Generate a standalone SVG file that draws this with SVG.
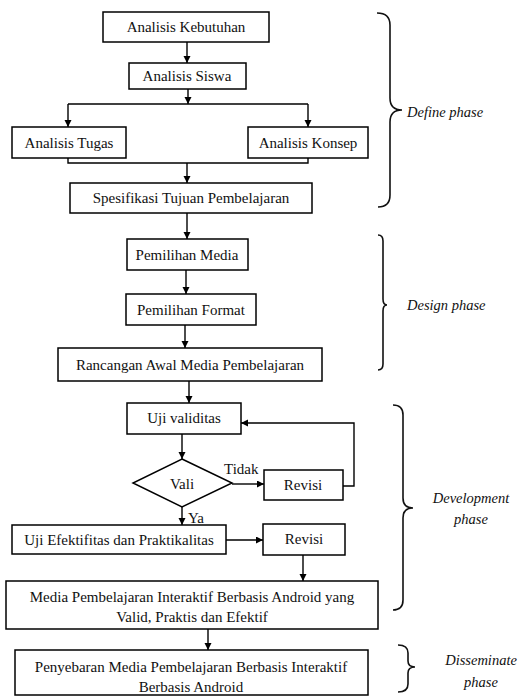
<svg xmlns="http://www.w3.org/2000/svg" width="521" height="700" viewBox="0 0 521 700">
<style>
.box{fill:#fff;stroke:#000;stroke-width:1.5}
.t{font-family:"Liberation Serif","Times New Roman",serif;font-size:15px;fill:#111;text-anchor:middle}
.tl{font-family:"Liberation Serif","Times New Roman",serif;font-size:15px;fill:#111}
.ph{font-family:"Liberation Serif","Times New Roman",serif;font-size:14.5px;font-style:italic;fill:#111}
.c{fill:none;stroke:#000;stroke-width:1.4}
.br{fill:none;stroke:#111;stroke-width:1.6}
</style>
<defs>
<marker id="ah" markerUnits="userSpaceOnUse" markerWidth="8" markerHeight="8" refX="7" refY="3.5" orient="auto">
<path d="M0,0 L7,3.5 L0,7 z" fill="#000"/>
</marker>
</defs>
<rect width="521" height="700" fill="#fff"/>
<g id="connectors">
<path class="c" d="M187,42 V63" marker-end="url(#ah)"/>
<path class="c" d="M188,89 V104"  marker-end="url(#ah)"/>
<path class="c" d="M68,104 H308"/>
<path class="c" d="M68,104 V127" marker-end="url(#ah)"/>
<path class="c" d="M308,104 V127" marker-end="url(#ah)"/>
<path class="c" d="M68,158 V163 H308 V158"/>
<path class="c" d="M187,163 V183" marker-end="url(#ah)"/>
<path class="c" d="M187,213 V239" marker-end="url(#ah)"/>
<path class="c" d="M186,270 V294" marker-end="url(#ah)"/>
<path class="c" d="M185,325 V348" marker-end="url(#ah)"/>
<path class="c" d="M189,381 V403" marker-end="url(#ah)"/>
<path class="c" d="M182,434 V459" marker-end="url(#ah)"/>
<path class="c" d="M232,484 H264" marker-end="url(#ah)"/>
<path class="c" d="M343,486 H354 V423 H241" marker-end="url(#ah)"/>
<path class="c" d="M182,507 V525" marker-end="url(#ah)"/>
<path class="c" d="M226,540 H263" marker-end="url(#ah)"/>
<path class="c" d="M303,555 V581" marker-end="url(#ah)"/>
<path class="c" d="M208,629 V650" marker-end="url(#ah)"/>
</g>
<g id="n-kebutuhan"><rect class="box" x="103" y="12" width="166" height="30"/><text class="t" x="186" y="32">Analisis Kebutuhan</text></g>
<g id="n-siswa"><rect class="box" x="129" y="63" width="117" height="26"/><text class="t" x="187" y="81">Analisis Siswa</text></g>
<g id="n-tugas"><rect class="box" x="12" y="127" width="114" height="31"/><text class="t" x="69" y="148">Analisis Tugas</text></g>
<g id="n-konsep"><rect class="box" x="248" y="127" width="120" height="31"/><text class="t" x="308" y="148">Analisis Konsep</text></g>
<g id="n-spesifikasi"><rect class="box" x="70" y="183" width="242" height="30"/><text class="t" x="191" y="203">Spesifikasi Tujuan Pembelajaran</text></g>
<g id="n-media"><rect class="box" x="127" y="239" width="121" height="31"/><text class="t" x="187" y="260">Pemilihan Media</text></g>
<g id="n-format"><rect class="box" x="126" y="294" width="130" height="31"/><text class="t" x="191" y="315">Pemilihan Format</text></g>
<g id="n-rancangan"><rect class="box" x="58" y="348" width="264" height="33"/><text class="t" x="190" y="370">Rancangan Awal Media Pembelajaran</text></g>
<g id="n-validitas"><rect class="box" x="127" y="403" width="114" height="31"/><text class="t" x="184" y="423">Uji validitas</text></g>
<g id="n-vali"><path class="box" d="M182,459 L232,483 L182,507 L133,483 z"/><text class="t" x="182" y="489">Vali</text></g>
<g id="n-revisi1"><rect class="box" x="264" y="470" width="79" height="30"/><text class="t" x="303" y="490">Revisi</text></g>
<g id="n-efektifitas"><rect class="box" x="12" y="525" width="214" height="29"/><text class="t" x="119" y="545">Uji Efektifitas dan Praktikalitas</text></g>
<g id="n-revisi2"><rect class="box" x="263" y="524" width="82" height="31"/><text class="t" x="304" y="544">Revisi</text></g>
<g id="n-hasil"><rect class="box" x="6" y="581" width="372" height="48"/><text class="t" x="192" y="602">Media Pembelajaran Interaktif Berbasis Android yang</text><text class="t" x="192" y="622">Valid, Praktis dan Efektif</text></g>
<g id="n-penyebaran"><rect class="box" x="15" y="650" width="353" height="45"/><text class="t" x="191" y="672">Penyebaran Media Pembelajaran Berbasis Interaktif</text><text class="t" x="191" y="692">Berbasis Android</text></g>
<g id="labels">
<text class="tl" x="224" y="474">Tidak</text>
<text class="tl" x="188" y="523">Ya</text>
</g>
<g id="phases">
<path class="br" d="M377,13 Q390,13 390,25 V98 Q390,110 402,110 Q390,110 390,122 V195 Q390,207 378,207"/>
<text class="ph" x="407" y="117">Define phase</text>
<path class="br" d="M378,235 Q383,235 383,241 V299 Q383,305 387,305 Q383,305 383,311 V364 Q383,370 378,370"/>
<text class="ph" x="407" y="310">Design phase</text>
<path class="br" d="M393,405 Q403,405 403,415 V498 Q403,508 413,508 Q403,508 403,518 V600 Q403,610 393,610"/>
<text class="ph" x="471" y="503" text-anchor="middle">Development</text>
<text class="ph" x="471" y="524" text-anchor="middle">phase</text>
<path class="br" d="M398,645 Q408,645 408,653 V661 Q408,667 415,667 Q408,667 408,673 V684 Q408,692 398,692"/>
<text class="ph" x="481" y="665" text-anchor="middle">Disseminate</text>
<text class="ph" x="481" y="687" text-anchor="middle">phase</text>
</g>
</svg>
